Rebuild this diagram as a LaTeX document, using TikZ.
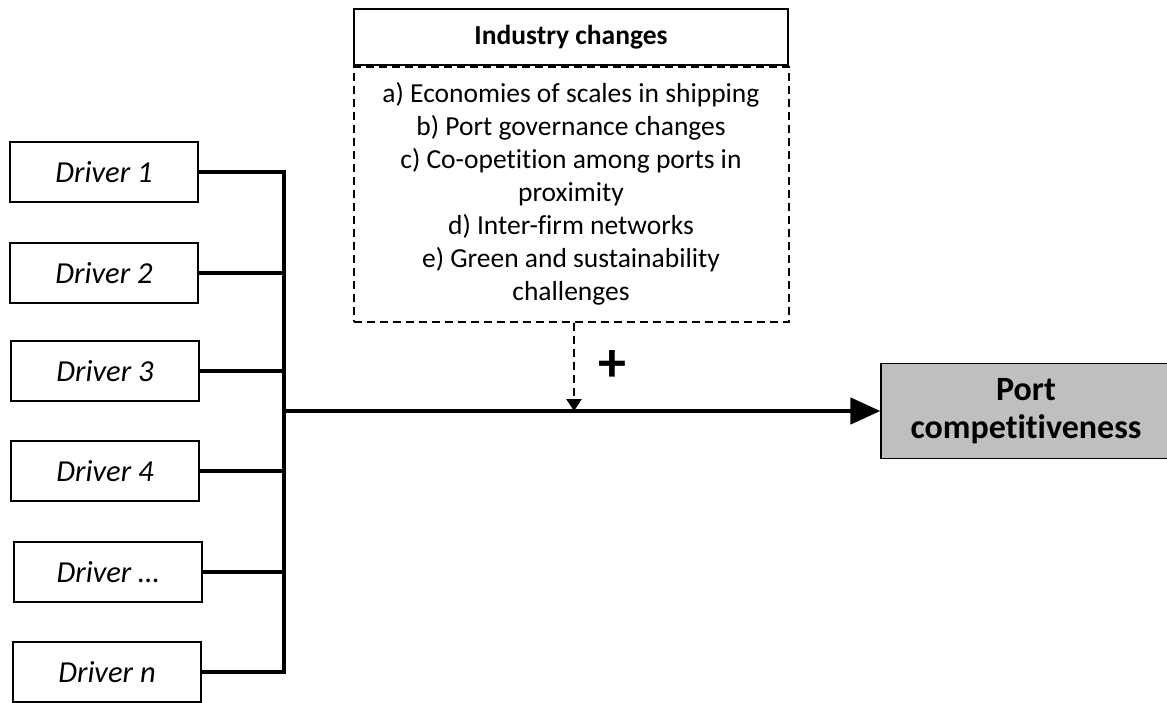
\documentclass[tikz,border=0pt]{standalone}
\usepackage{fontspec}
\setmainfont[Ligatures=NoCommon]{Carlito}
\usetikzlibrary{arrows.meta, positioning, calc}
\definecolor{portgray}{RGB}{191,191,191}

\begin{document}
\begin{tikzpicture}[x=1pt, y=-1pt,
            driver/.style={draw, line width=1.2pt, minimum width=188pt, minimum height=60pt, inner sep=0pt, font=\fontsize{30.5}{36}\selectfont\itshape},
            link/.style={line width=4.5pt},
            headbox/.style={draw, line width=1.2pt, minimum width=434pt, minimum height=56pt, inner sep=0pt, font=\fontsize{27.5}{33}\selectfont\bfseries},
            listbox/.style={draw, dashed, line width=2pt, dash pattern=on 8pt off 5pt, minimum width=435pt, minimum height=255pt, inner sep=0pt, align=center, font=\fontsize{27.5}{33}\selectfont},
            dasharrow/.style={line width=2.5pt, dash pattern=on 8pt off 5pt, -{Triangle[length=12pt, width=15pt]}},
            mainarrow/.style={line width=4.5pt, -{Triangle[length=30pt, width=26pt]}}
        ]
        \useasboundingbox (0,0) rectangle (1167,702);
        \node[driver] (d1) at (104,172) {Driver 1};
        \node[driver] (d2) at (104,273) {Driver 2};
        \node[driver] (d3) at (105,371) {Driver 3};
        \node[driver] (d4) at (105,471) {Driver 4};
        \node[driver] (d5) at (108,572) {Driver …};
        \node[driver] (d6) at (107,672) {Driver n};
        \node[headbox] (head) at (571,37) {Industry changes};
        \node[listbox, anchor=north] (list) at (head.south) {
            a) Economies of scales in shipping \\
            b) Port governance changes \\
            c) Co-opetition among ports in \\
            proximity \\
            d) Inter-firm networks \\
            e) Green and sustainability \\
            challenges
        };
        \node[draw, line width=1.2pt, fill=portgray, minimum width=290pt, minimum height=95pt, align=center, font=\fontsize{34}{38}\selectfont\bfseries] (port) at (1026,411) {Port\\competitiveness};
        \coordinate (bus) at (284,411);
        \coordinate (join) at (574,411);
        \draw[link] (d1.east) -| (bus |- d6.east) -- (d6.east);
        \foreach \d in {d2,d3,d4,d5}
            \draw[link] (\d.east) -- (\d.east -| bus);
        \draw[mainarrow] (bus) -- (port.west);
        \draw[dasharrow] (list.south -| join) -- (join);
        \node[font=\fontsize{56}{56}\selectfont\bfseries] (plus) at (612,366) {+};
        \end{tikzpicture}
\end{document}
